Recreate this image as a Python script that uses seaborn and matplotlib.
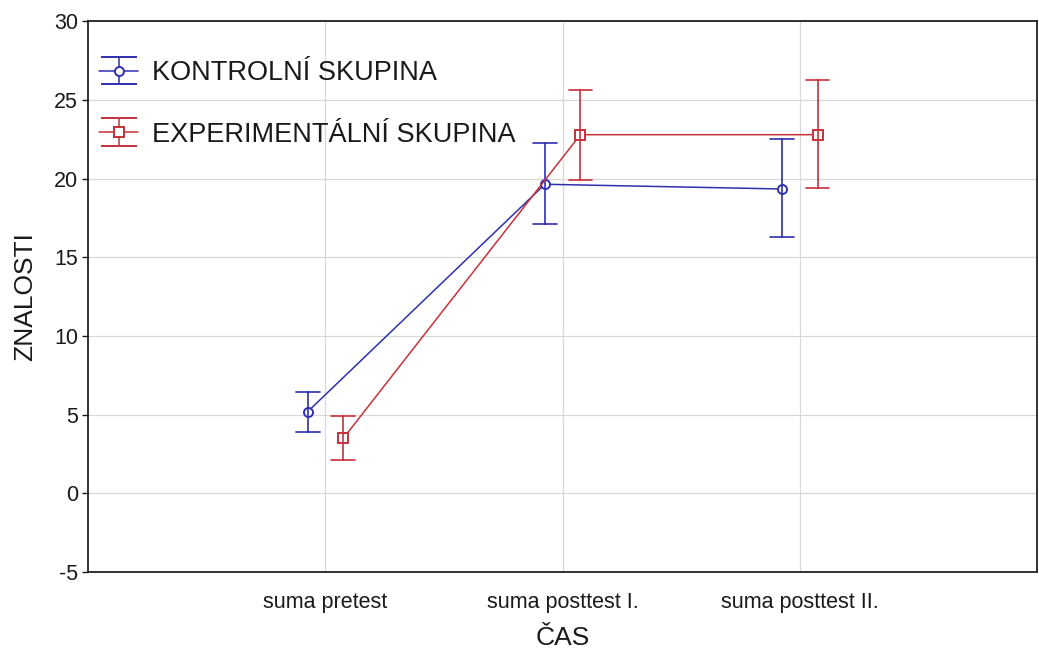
import numpy as np
import pandas as pd
import matplotlib
matplotlib.use("Agg")
from matplotlib import pyplot as plt
import seaborn as sns

# data ~~~~~~~~~~~~~~~~~~~~~~~~~~~~~~~~~~~~~~~~~~~~~~~~~~~~~~~~~~~~~~~~~
casy = ["suma pretest", "suma posttest I.", "suma posttest II."]
skupiny = ["KONTROLNÍ SKUPINA", "EXPERIMENTÁLNÍ SKUPINA"]

kontrolni_prumer = [5.2, 19.65, 19.35]
kontrolni_dolni = [3.9, 17.1, 16.3]
kontrolni_horni = [6.45, 22.25, 22.5]

experim_prumer = [3.5, 22.8, 22.8]
experim_dolni = [2.1, 19.95, 19.4]
experim_horni = [4.95, 25.65, 26.25]

# long table: each point = (lower, mean, upper); median -> mean, min/max -> bar
rows = []
for sk, prum, dol, hor in [(skupiny[0], kontrolni_prumer, kontrolni_dolni, kontrolni_horni),
                           (skupiny[1], experim_prumer, experim_dolni, experim_horni)]:
    for c, p, d, h in zip(casy, prum, dol, hor):
        for v in (d, p, h):
            rows.append({"cas": c, "skupina": sk, "znalosti": v})
df = pd.DataFrame(rows)

sns.set_style("white")
plt.rcParams['font.family'] = ['Liberation Sans', 'DejaVu Sans']
plt.rcParams['axes.unicode_minus'] = False
plt.rcParams['text.color'] = "#1a1a1a"
plt.rcParams['axes.labelcolor'] = "#1a1a1a"
plt.rcParams['xtick.color'] = "#1a1a1a"
plt.rcParams['ytick.color'] = "#1a1a1a"

modra = "#2f2fb0"
cervena = "#c8303a"

fig, ax = plt.subplots(figsize=(10.39, 6.48), dpi=100)
fig.subplots_adjust(left=0.085, right=0.998, top=0.967, bottom=0.117)

sns.pointplot(data=df, x="cas", y="znalosti", hue="skupina", order=casy,
              hue_order=skupiny, palette=[modra, cervena],
              estimator="median", errorbar=lambda x: (np.min(x), np.max(x)),
              dodge=0.15, markers=["o", "s"], linestyles="-",
              capsize=0.1, err_kws={"linewidth": 1.2}, linewidth=1.1,
              markersize=6.5, markerfacecolor="white", markeredgewidth=1.4,
              legend=False, ax=ax)

ax.set_xlim(-1, 3)
ax.set_ylim(-5, 30)
ax.set_yticks(range(-5, 31, 5))
ax.grid(True, color="#d8d8d8", linewidth=0.9)
ax.set_axisbelow(True)
for s in ax.spines.values():
    s.set_color("#222222")
    s.set_linewidth(1.3)
ax.tick_params(axis="y", left=True, length=4, width=1, labelsize=15.5)
ax.tick_params(axis="x", bottom=False, labelsize=15.5, pad=11)
ax.set_xlabel("ČAS", fontsize=19, labelpad=9)
ax.set_ylabel("ZNALOSTI", fontsize=19, labelpad=12)

# legend with error-bar symbols
h1 = ax.errorbar([np.nan], [np.nan], yerr=[np.nan], color=modra, marker="o",
                 mfc="white", ms=6.5, mew=1.4, capsize=13, lw=1.1)
h2 = ax.errorbar([np.nan], [np.nan], yerr=[np.nan], color=cervena, marker="s",
                 mfc="white", ms=6.5, mew=1.4, capsize=13, lw=1.1)
ax.legend([h1, h2], skupiny, loc="upper left", frameon=False, fontsize=19.5,
          handlelength=1.45, handletextpad=0.5, labelspacing=1.3,
          borderaxespad=0.0, bbox_to_anchor=(0.0, 0.949))

plt.savefig("out.png", dpi=100)
